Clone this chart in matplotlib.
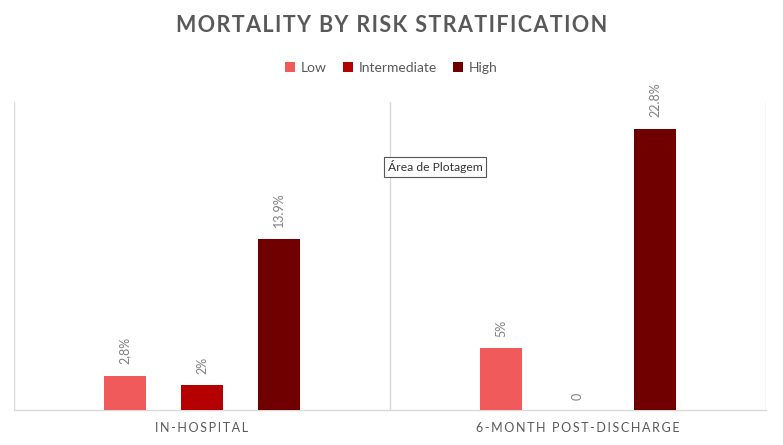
import matplotlib
matplotlib.use("Agg")
import matplotlib.pyplot as plt
import numpy as np

plt.rcParams["font.family"] = ["Lato", "DejaVu Sans"]

categories = ["IN-HOSPITAL", "6-MONTH POST-DISCHARGE"]
series = ["Low", "Intermediate", "High"]
low = [2.8, 5]
intermediate = [2, 0]
high = [13.9, 22.8]
labels_low = ["2,8%", "5%"]
labels_intermediate = ["2%", "0"]
labels_high = ["13.9%", "22.8%"]

colors = ["#F15A5A", "#B50000", "#700000"]
text_gray = "#595959"
label_gray = "#7F7F7F"
grid_gray = "#D9D9D9"

def spaced(s, sep="\u200a"):
    return sep.join(s)

fig = plt.figure(figsize=(7.83, 4.45), dpi=100)
W, H = 783, 445
left, right, bottom, top = 14, 766, 410, 102
ax = fig.add_axes([left / W, 1 - bottom / H, (right - left) / W, (bottom - top) / H])

x = np.arange(len(categories))
width = 0.11
offset = 0.205
all_vals = [low, intermediate, high]
all_labels = [labels_low, labels_intermediate, labels_high]
for i, (name, vals, labs) in enumerate(zip(series, all_vals, all_labels)):
    pos = x + (i - 1) * offset
    bars = ax.bar(pos, vals, width=width, color=colors[i], label=name, zorder=3)
    for b, lab in zip(bars, labs):
        h = b.get_height()
        ax.annotate(lab, (b.get_x() + b.get_width() / 2, h), xytext=(0, 8.5 if h > 0 else 7),
                    textcoords="offset points", rotation=90, ha="center", va="bottom",
                    fontsize=9, color=label_gray)

ax.set_xlim(-0.5, 1.5)
ax.set_ylim(0, 25)
for s in ["top", "right", "left"]:
    ax.spines[s].set_visible(False)
ax.spines["bottom"].set_color(grid_gray)
ax.spines["bottom"].set_linewidth(1)
for xv in [-0.5, 0.5, 1.5]:
    ax.axvline(xv, color=grid_gray, lw=1, zorder=1)
ax.set_yticks([])
ax.set_xticks(x)
ax.set_xticklabels([spaced(c, "\u2009") for c in categories], fontsize=9, color=text_gray)
ax.tick_params(axis="x", length=0, pad=9)

fig.text(0.5, 1 - 25 / H, spaced("MORTALITY BY RISK STRATIFICATION", "\u200a"), ha="center", va="center",
         fontsize=15.5, fontweight="bold", color=text_gray)

leg = fig.legend(loc="center", bbox_to_anchor=(0.5, 1 - 67.5 / H), ncol=3, frameon=False,
                 fontsize=10, handlelength=0.7, handleheight=0.7, handletextpad=0.4, columnspacing=1.2)
for t in leg.get_texts():
    t.set_color(text_gray)

ax.text(0.497, 0.79, "Área de Plotagem", transform=ax.transAxes, fontsize=8.7, color="#333333",
        ha="left", va="center",
        bbox=dict(boxstyle="square,pad=0.3", fc="white", ec="#555555", lw=0.8), zorder=5)

fig.savefig("out.png", dpi=100)
